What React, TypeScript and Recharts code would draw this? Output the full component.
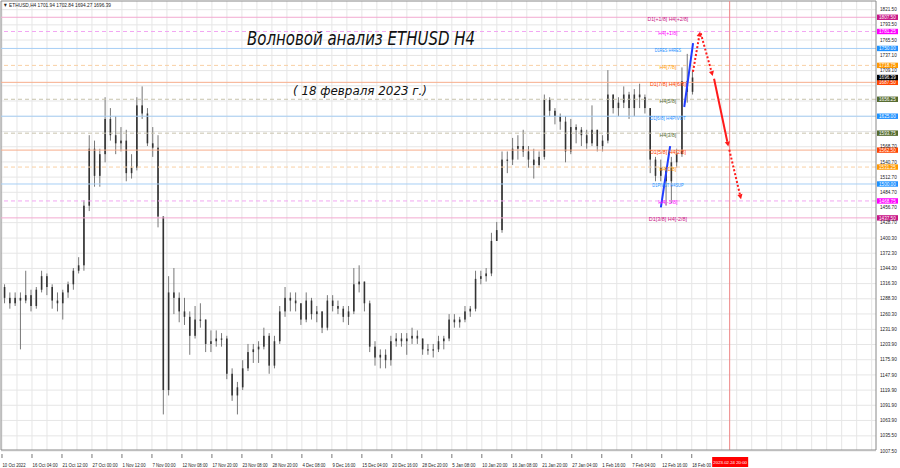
import React from 'react';
import { ComposedChart, Bar, Scatter, XAxis, YAxis, CartesianGrid, ReferenceLine } from 'recharts';

// daily columns of the H4 chart, 10 Oct 2022 .. 18 Feb 2023
const highs = [
  1315, 1300, 1300, 1300, 1340, 1305, 1310, 1340, 1335, 1315, 1300, 1305, 1320, 1345, 1365,
  1470, 1590, 1580, 1565, 1660, 1640, 1625, 1605, 1600, 1555, 1660, 1680, 1640, 1605, 1590,
  1440, 1330, 1345, 1300, 1290, 1265, 1275, 1280, 1250, 1230, 1230, 1225, 1220, 1160, 1135,
  1175, 1205, 1205, 1210, 1235, 1225, 1220, 1275, 1310, 1300, 1300, 1280, 1300, 1290, 1275,
  1265, 1295, 1295, 1285, 1275, 1275, 1345, 1350, 1320, 1285, 1210, 1195, 1195, 1220, 1225,
  1225, 1225, 1235, 1230, 1215, 1205, 1205, 1220, 1220, 1260, 1260, 1255, 1275, 1275, 1340,
  1340, 1345, 1410, 1430, 1560, 1560, 1585, 1590, 1600, 1570, 1565, 1560, 1665, 1660, 1640,
  1630, 1625, 1620, 1610, 1605, 1600, 1645, 1600, 1590, 1710, 1665, 1660, 1680, 1670, 1675,
  1685, 1665, 1640, 1550, 1545, 1530, 1550, 1565, 1715, 1740, 1710,
];
const lows = [
  1280, 1270, 1275, 1195, 1280, 1265, 1270, 1300, 1295, 1270, 1265, 1250, 1290, 1305, 1335,
  1340, 1450, 1495, 1495, 1540, 1580, 1555, 1560, 1505, 1510, 1525, 1620, 1570, 1550, 1420,
  1075, 1110, 1260, 1245, 1240, 1185, 1215, 1235, 1190, 1190, 1200, 1200, 1140, 1100, 1075,
  1120, 1155, 1170, 1170, 1195, 1150, 1160, 1205, 1255, 1265, 1265, 1240, 1245, 1250, 1245,
  1225, 1230, 1265, 1260, 1245, 1240, 1260, 1300, 1265, 1190, 1165, 1160, 1160, 1165, 1200,
  1200, 1185, 1205, 1205, 1185, 1185, 1180, 1190, 1195, 1210, 1235, 1235, 1245, 1255, 1265,
  1315, 1320, 1330, 1395, 1410, 1520, 1535, 1545, 1550, 1530, 1510, 1530, 1545, 1625, 1610,
  1600, 1540, 1555, 1575, 1570, 1565, 1570, 1560, 1560, 1575, 1630, 1625, 1640, 1620, 1625,
  1640, 1630, 1520, 1505, 1505, 1460, 1465, 1530, 1550, 1650, 1665,
];
const closes = [
  1290, 1280, 1290, 1285, 1295, 1275, 1305, 1330, 1310, 1285, 1280, 1300, 1315, 1340, 1350,
  1460, 1565, 1515, 1555, 1620, 1590, 1575, 1580, 1520, 1530, 1645, 1630, 1575, 1567, 1440,
  1120, 1300, 1290, 1265, 1255, 1220, 1250, 1250, 1205, 1210, 1215, 1215, 1150, 1110, 1125,
  1160, 1190, 1195, 1200, 1220, 1165, 1210, 1265, 1290, 1285, 1280, 1250, 1285, 1260, 1265,
  1235, 1285, 1275, 1270, 1255, 1265, 1315, 1320, 1280, 1200, 1180, 1185, 1175, 1210, 1215,
  1210, 1215, 1220, 1215, 1195, 1195, 1195, 1210, 1215, 1250, 1245, 1250, 1265, 1270, 1325,
  1330, 1335, 1395, 1415, 1545, 1545, 1565, 1570, 1560, 1545, 1535, 1550, 1655, 1635, 1625,
  1615, 1560, 1605, 1600, 1590, 1575, 1600, 1570, 1580, 1665, 1640, 1650, 1665, 1640, 1665,
  1660, 1640, 1545, 1515, 1530, 1505, 1540, 1555, 1690, 1670, 1696.39,
];
const firstOpen = 1310;

const barsPerDay = 6;
const barsPerLabel = 34;
const timeLabels = [
  '10 Oct 2022', '16 Oct 04:00', '21 Oct 12:00', '27 Oct 00:00', '1 Nov 12:00', '7 Nov 00:00',
  '12 Nov 08:00', '17 Nov 20:00', '23 Nov 08:00', '28 Nov 20:00', '4 Dec 08:00', '9 Dec 16:00',
  '15 Dec 04:00', '20 Dec 16:00', '28 Dec 20:00', '5 Jan 08:00', '10 Jan 20:00', '16 Jan 08:00',
  '21 Jan 20:00', '27 Jan 04:00', '1 Feb 16:00', '7 Feb 04:00', '12 Feb 16:00', '18 Feb 00',
];

const priceTicks = [
  1821.5, 1793.5, 1765.5, 1737.1, 1709.1, 1681.1, 1653.1, 1624.7, 1596.7, 1568.7, 1540.7,
  1512.7, 1484.7, 1456.7, 1428.7, 1400.3, 1372.3, 1344.3, 1316.3, 1288.3, 1260.3, 1231.9,
  1203.9, 1175.9, 1147.9, 1119.9, 1091.9, 1063.9, 1035.5, 1007.5,
];
const coveredTicks = [1681.1, 1653.1, 1624.7, 1596.7];

// Murrey levels drawn by the indicator
const levelPrices = [1807.5, 1781.25, 1750, 1718.75, 1687.5, 1656.25, 1625, 1593.75, 1562.5, 1531.25, 1500, 1468.75, 1437.5];
const levelNames = [
  'D1[+1/8] H4[+2/8]', 'H4[+1/8]', 'D1RES H4RES', 'H4[7/8]', 'D1[7/8] H4[6/8]', 'H4[5/8]',
  'D1[6/8] H4PIVOT', 'H4[3/8]', 'D1[5/8] H4[2/8]', 'H4[1/8]', 'D1PIVOT H4SUP', 'H4[-1/8]', 'D1[3/8] H4[-2/8]',
];
const levelKinds = ['outer', 'extra', 'pivot', 'weak', 'strong', 'minor', 'pivot', 'minor', 'strong', 'weak', 'pivot', 'extra', 'outer'];

const lastPrice = 1696.39;
const quote = '1701.94 1702.84 1694.27 1696.39';
const futureBar = 825;
const futureLabel = '2023.02.24 20:00';

// wave marks: [fromBar, fromPrice, toBar, toPrice]
const blueWaves = [
  [747, 1457, 757.5, 1570],
  [773.5, 1642, 783.5, 1760],
];
const forecast = [
  [783.4, 1707, 791.4, 1781],
  [792.2, 1778, 805.8, 1699],
  [807.3, 1694, 823.5, 1569],
  [824.6, 1563, 837.9, 1472],
];
const forecastDotted = [true, true, false, true];

const kindStyle: Record<string, { line: string; box: string; dash?: string }> = {
  outer: { line: '#f3a9d0', box: '#c71585' },
  extra: { line: '#f2a6f2', box: '#ff00ff', dash: '4 3' },
  pivot: { line: '#a7cff5', box: '#1e90ff' },
  weak: { line: '#f9d0a4', box: '#ff9900', dash: '4 3' },
  strong: { line: '#f7ae8c', box: '#ff4500' },
  minor: { line: '#c8c3ae', box: '#556b2f', dash: '4 3' },
};

const xDomain: [number, number] = [-1.13, 990.9];
const yDomain: [number, number] = [1009.4, 1837.5];
const smallFont = '"Liberation Sans", Arial, sans-serif';
const levelLabelBar = 755;

const candles = closes.map((c, i) => ({
  bar: i * barsPerDay + 3,
  open: i === 0 ? firstOpen : closes[i - 1],
  close: c,
  high: highs[i],
  low: lows[i],
  range: [lows[i], highs[i]],
}));

const levelLabels = levelPrices.map((p, i) => ({ bar: levelLabelBar, price: p, name: levelNames[i], kind: levelKinds[i] }));
const labelTicks = timeLabels.map((_, i) => i * barsPerLabel);
const gridBars = Array.from({ length: 59 }, (_, i) => i * (barsPerLabel / 2));
const shownTicks = priceTicks.filter(t => !coveredTicks.includes(t));

const Small = ({ x, y, text, fill = '#222', anchor = 'start', cw = 2.4, size = 5.6 }: any) => (
  <text x={x} y={y} fontSize={size} fontFamily={smallFont} fill={fill} textAnchor={anchor}
    textLength={text.length * cw} lengthAdjust="spacingAndGlyphs">{text}</text>
);

const Candle = (props: any) => {
  const { x, y, width, height, payload } = props;
  if (payload == null || height == null) return null;
  const span = payload.high - payload.low || 1;
  const k = Math.abs(height) / span;
  const top = Math.min(y, y + height);
  const cx = x + width / 2;
  const bTop = top + (payload.high - Math.max(payload.open, payload.close)) * k;
  const bBot = top + (payload.high - Math.min(payload.open, payload.close)) * k;
  return (
    <g>
      <line x1={cx} x2={cx} y1={top} y2={top + Math.abs(height)} stroke="#777" strokeWidth={1} />
      <rect x={x} y={bTop} width={width} height={Math.max(1.2, bBot - bTop)} fill="#333" />
    </g>
  );
};

const levelShape = (price: number, kind: string) => (p: any) => {
  const st = kindStyle[kind];
  const right = Math.max(p.x1, p.x2);
  return (
    <g>
      <line x1={p.x1} x2={p.x2} y1={p.y1} y2={p.y2} stroke={st.line} strokeWidth={1} strokeDasharray={st.dash} />
      <rect x={right + 1} y={p.y1 - 2.7} width={21} height={5.4} fill={st.box} />
      <Small x={right + 3} y={p.y1 + 1.8} text={price.toFixed(2)} fill="#ffffff" size={5.2} />
    </g>
  );
};

const lastShape = (p: any) => {
  const right = Math.max(p.x1, p.x2);
  return (
    <g>
      <rect x={right + 1} y={p.y1 - 2.7} width={21} height={5.4} fill="#000000" />
      <Small x={right + 3} y={p.y1 + 1.8} text={lastPrice.toFixed(2)} fill="#ffffff" size={5.2} />
    </g>
  );
};

const futureShape = (p: any) => {
  const bottom = Math.max(p.y1, p.y2);
  return (
    <g>
      <line x1={p.x1} x2={p.x2} y1={p.y1} y2={p.y2} stroke="#ee8585" strokeWidth={1} />
      <rect x={p.x1 - 17.5} y={bottom + 7} width={36} height={10} fill="#ff0000" />
      <Small x={p.x1 + 0.5} y={bottom + 14} text={futureLabel} fill="#ffffff" anchor="middle" cw={2.1} size={4.4} />
    </g>
  );
};

const arrowShape = (dotted: boolean) => (p: any) => {
  const { x1, y1, x2, y2 } = p;
  const a = Math.atan2(y2 - y1, x2 - x1);
  const s = 5;
  const w = 2.6;
  const bx = x2 - s * Math.cos(a);
  const by = y2 - s * Math.sin(a);
  const pts = `${x2},${y2} ${bx + w * Math.sin(a)},${by - w * Math.cos(a)} ${bx - w * Math.sin(a)},${by + w * Math.cos(a)}`;
  return (
    <g>
      <line x1={x1} y1={y1} x2={bx} y2={by} stroke="#ff1a1a" strokeWidth={2} strokeDasharray={dotted ? '2 2' : undefined} />
      <polygon points={pts} fill="#ff1a1a" />
    </g>
  );
};

const waveShape = (p: any) => (
  <line x1={p.x1} y1={p.y1} x2={p.x2} y2={p.y2} stroke="#1f3cff" strokeWidth={2} />
);

const LevelText = (props: any) => {
  const { cx, cy, payload } = props;
  if (cx == null || cy == null) return null;
  return <Small x={cx} y={cy + 3.5} text={payload.name} fill={kindStyle[payload.kind].box} anchor="middle" />;
};

const TimeTick = (props: any) => {
  const { x, y, payload } = props;
  const i = labelTicks.indexOf(payload.value);
  if (i < 0) return null;
  return (
    <g>
      <line x1={x} x2={x} y1={y - 4} y2={y} stroke="#777" />
      <Small x={x + 0.5} y={y + 9} text={timeLabels[i]} cw={2.1} size={4.8} />
    </g>
  );
};

const PriceTick = (props: any) => {
  const { x, y, payload } = props;
  return <Small x={x + 2} y={y + 1.6} text={Number(payload.value).toFixed(2)} size={5.2} />;
};

export default function App() {
  return (
    <div style={{ position: 'absolute', left: 0, top: 0, width: 900, height: 468, background: '#fff' }}>
      <ComposedChart width={900} height={468} data={candles} margin={{ top: 1, right: 0, bottom: 1, left: 1 }}>
        <CartesianGrid stroke="#e6e6e6" horizontalValues={priceTicks} verticalValues={gridBars} />
        <XAxis
          type="number"
          dataKey="bar"
          domain={xDomain}
          allowDataOverflow
          ticks={labelTicks}
          interval={0}
          height={17}
          tickLine={false}
          axisLine={{ stroke: '#888' }}
          tick={<TimeTick />}
        />
        <YAxis
          orientation="right"
          type="number"
          domain={yDomain}
          allowDataOverflow
          ticks={shownTicks}
          interval={0}
          width={24}
          tickLine={false}
          tickSize={0}
          axisLine={{ stroke: '#888' }}
          tick={<PriceTick />}
        />
        <ReferenceLine x={xDomain[0]} stroke="#888" />
        <ReferenceLine y={yDomain[1]} stroke="#888" />
        {levelPrices.map((p, i) => (
          <ReferenceLine key={'lv' + i} y={p} shape={levelShape(p, levelKinds[i])} />
        ))}
        <ReferenceLine y={lastPrice} shape={lastShape} />
        <ReferenceLine x={futureBar} shape={futureShape} />
        <Scatter data={levelLabels} dataKey="price" shape={<LevelText />} isAnimationActive={false} />
        <Bar dataKey="range" barSize={4} shape={<Candle />} isAnimationActive={false} />
        {blueWaves.map((w, i) => (
          <ReferenceLine key={'bw' + i} segment={[{ x: w[0], y: w[1] }, { x: w[2], y: w[3] }]} shape={waveShape} />
        ))}
        {forecast.map((f, i) => (
          <ReferenceLine key={'fc' + i} segment={[{ x: f[0], y: f[1] }, { x: f[2], y: f[3] }]} shape={arrowShape(forecastDotted[i])} />
        ))}
      </ComposedChart>
      <svg width={900} height={468} style={{ position: 'absolute', left: 0, top: 0, pointerEvents: 'none' }}>
        <Small x={3} y={7} text={'\u25BC  ETHUSD,H4  ' + quote} />
        <text x={247} y={45} fontSize={19} fontStyle="italic" fontFamily='"DejaVu Sans", sans-serif' fill="#111" textLength={228} lengthAdjust="spacingAndGlyphs">
          Волновой анализ ETHUSD H4
        </text>
        <text x={293} y={95} fontSize={12.5} fontStyle="italic" fontFamily='"DejaVu Sans", sans-serif' fill="#111" textLength={134} lengthAdjust="spacingAndGlyphs">
          ( 18 февраля 2023 г.)
        </text>
      </svg>
    </div>
  );
}
